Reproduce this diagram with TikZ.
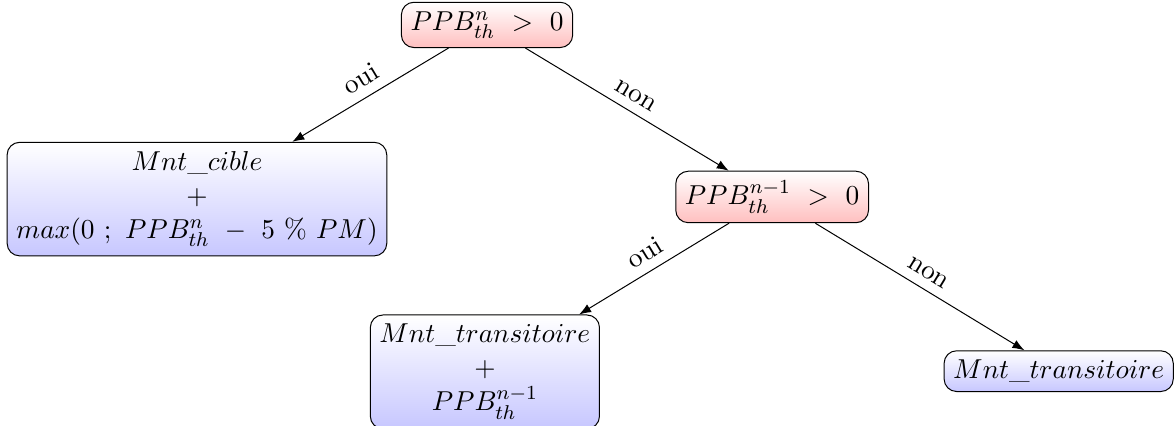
\documentclass[tikz,border=0pt,11pt]{standalone}
\usepackage{tikz}
\usetikzlibrary{positioning, arrows.meta}
\usepackage{amsmath,amssymb}

\begin{document}
\begin{tikzpicture}[
  >=Latex,
  test/.style={draw, rectangle, rounded corners=5pt, top color=white, bottom color=red!25, align=center},
  result/.style={draw, rectangle, rounded corners=5pt, top color=white, bottom color=blue!22, align=center},
  arrow/.style={->},
  lbl/.style={above, sloped}
]
\useasboundingbox (0,0) rectangle (16.54,-5.99);

\node[test] (root) at (6.85,-0.35) {$PPB_{th}^{n}\ >\ 0$};
\node[result] (cible) at (2.77,-2.80) {$Mnt\_cible$\\ $+$\\ $max(0\ ;\ PPB_{th}^{n}\ -\ 5\ \%\ PM)$};
\node[test] (prev) at (10.86,-2.77) {$PPB_{th}^{n-1}\ >\ 0$};
\node[result] (transplus) at (6.82,-5.23) {$Mnt\_transitoire$\\ $+$\\ $PPB_{th}^{n-1}$};
\node[result] (trans) at (14.89,-5.22) {$Mnt\_transitoire$};

\draw[arrow] (root) -- node[lbl] {oui} (cible);
\draw[arrow] (root) -- node[lbl] {non} (prev);
\draw[arrow] (prev) -- node[lbl] {oui} (transplus);
\draw[arrow] (prev) -- node[lbl] {non} (trans);

\end{tikzpicture}
\end{document}
